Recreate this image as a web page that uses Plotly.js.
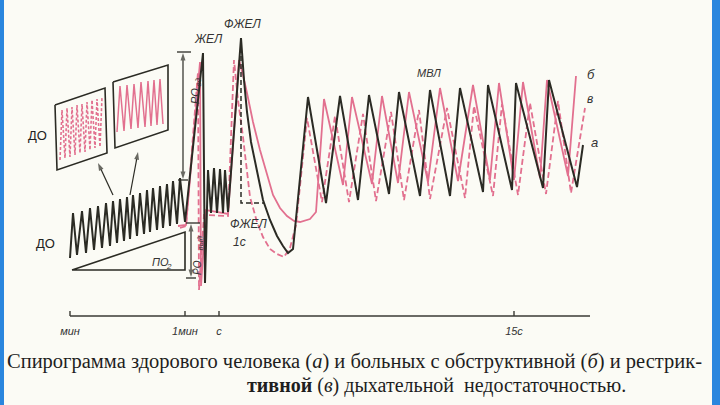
<!DOCTYPE html>
<html>
<head>
<meta charset="utf-8">
<script src="https://cdn.plot.ly/plotly-3.0.1.min.js"></script>
<style>html,body{margin:0;padding:0;background:#fbfbf5;}#chart{width:720px;height:405px;}</style>
</head>
<body>
<div id="chart"></div>
<script>
// ---- Data (time units along x, volume units along y) ----
// Curve "а" — healthy subject (solid black)
const healthyT = [70,73,77,82,86,90,94,98,102,106,110,113,117,120,124,127,130,133,137,140,144,147,150,153,157,160,163,167,170,173,177,180,185,203,205,208,211,214,217,220,223,225,228,241,244,247,251,257,263,270,277,283,288,293,308,326,340,358,369,389,399,420,430,450,460,483,488,512,516,543,549,577,583];
const healthyV = [147,192,150,194,152,197,155,199,157,202,159,204,162,206,164,208,166,210,169,212,171,215,173,217,175,219,177,221,179,224,181,227,183,352,122,235,192,237,192,236,192,235,193,367,325,293,263,233,205,185,169,159,152,156,308,202,309,205,310,211,313,209,315,209,317,213,320,215,322,217,325,218,260];
// Curve "б" — obstructive (solid pink)
const obstrT = [178,186,200,201,206,228,239,243,247,253,260,267,273,280,287,294,300,310,316,324,343,352,372,382,398,409,428,440,458,473,490,499,514,523,540,547,568,576];
const obstrV = [179,180,343,119,195,191,345,330,312,283,255,230,210,197,189,184,183,186,193,306,220,308,221,309,222,313,223,317,224,320,225,322,225,323,227,325,229,329];
// Curve "в" — restrictive (dashed pink)
const restrT = [180,186,198,199,204,228,234,238,243,250,257,263,270,277,284,290,296,303,307,322,335,349,363,376,391,404,419,430,447,465,474,493,502,518,530,546,558,571,585];
const restrV = [177,179,333,115,190,189,345,305,268,208,183,168,156,151,148,157,180,245,287,203,289,203,291,204,293,205,295,206,297,207,299,209,301,210,302,211,304,212,297];
// ФЖЕЛ 1 s marker (dashed black)
const fev1T = [241,241,264];
const fev1V = [365,202,202];
// Inset 1 — tidal breathing, dashed pink
const inset1T = [60,62,65,67,70,72,75,77,80,82,85,87,90,92,95,97,100,102];
const inset1V = [245,295,247,297,248,298,250,300,252,301,253,303,255,305,257,306,258,308];
// Inset 2 — tidal breathing, solid pink
const inset2T = [117,120,124,127,131,134,138,141,145,148,151,154,157,160,163];
const inset2V = [273,319,274,320,276,321,277,323,278,324,279,325,280,326,281];
// Inset frames
const frame1T = [55,105,107,57,55];
const frame1V = [300,317,252,235,300];
const frame2T = [113,168,168,115,113];
const frame2V = [323,340,275,257,323];
// ПО2 triangle
const po2T = [72,185,185,72];
const po2V = [135,173,135,135];
// Arrows (РОвд, РОвыд, pointers to the insets): from first to second point
const arrowT = [[183,183],[183,183],[191,191],[191,191],[113,98],[130,138]];
const arrowV = [[290,352],[290,226],[155,181],[155,128],[210,242],[210,253]];
// Time axis: extent, level, ticks
const axisT = [70,590];
const axisLevel = 89;
const tickPos = [70,185,219,514];
const tickLabels = ['мин','1мин','с','15с'];
const captionLine1 = 'Спирограмма здорового человека (<i>а</i>) и больных с обструктивной (<i>б</i>) и рестрик-';
const captionLine2 = '<b>тивной</b> (<i>в</i>) дыхательной  недостаточностью.';

// ---- Styles ----
const BLACK = '#2b2b24';
const PINK = '#e2708f';
const base = {type:'scatter', mode:'lines', hoverinfo:'skip', showlegend:false};

// time-axis line + upward tick marks, built from the arrays above
const axX = [axisT[0], axisT[1], null], axY = [axisLevel, axisLevel, null];
tickPos.forEach(function(t){ axX.push(t, t, null); axY.push(axisLevel, axisLevel + 5, null); });

const traces = [
  Object.assign({}, base, {x:restrT, y:restrV, line:{color:PINK, width:1.8, dash:'6px,3px'}}),
  Object.assign({}, base, {x:obstrT, y:obstrV, line:{color:PINK, width:1.8}}),
  Object.assign({}, base, {x:inset1T, y:inset1V, line:{color:PINK, width:1.6, dash:'3px,2px'}}),
  Object.assign({}, base, {x:inset2T, y:inset2V, line:{color:PINK, width:1.5}}),
  Object.assign({}, base, {x:frame1T, y:frame1V, line:{color:BLACK, width:1.6}}),
  Object.assign({}, base, {x:frame2T, y:frame2V, line:{color:BLACK, width:1.6}}),
  Object.assign({}, base, {x:po2T, y:po2V, line:{color:BLACK, width:1.6}}),
  Object.assign({}, base, {x:fev1T, y:fev1V, line:{color:BLACK, width:1.5, dash:'5px,3px'}}),
  Object.assign({}, base, {x:healthyT, y:healthyV, line:{color:BLACK, width:2}}),
  Object.assign({}, base, {x:axX, y:axY, line:{color:'#3a3a34', width:1.4}}),
  Object.assign({}, base, {x:axisT, y:[axisLevel, axisLevel], xaxis:'x2', line:{color:'rgba(0,0,0,0)', width:0}})
];
arrowT.forEach(function(t, i){
  traces.push(Object.assign({}, base, {x:t, y:arrowV[i], mode:'lines+markers',
    line:{color:BLACK, width:1.2},
    marker:{symbol:'arrow', angleref:'previous', size:[0,8], color:BLACK, line:{width:0}}}));
});

const lab = {family:'Liberation Sans', size:12, color:'#333', style:'italic'};
function txt(x, y, text, font, extra){
  return Object.assign({x:x, y:y, xref:'x', yref:'y', text:text, showarrow:false, font:Object.assign({}, lab, font||{})}, extra||{});
}

const annotations = [
  txt(208, 366, 'ЖЕЛ'),
  txt(243, 381, 'ФЖЕЛ'),
  txt(429, 332, 'МВЛ', {size:11}),
  txt(591, 331, 'б', {size:13}),
  txt(590, 306, 'в', {size:12}),
  txt(594, 263, 'а', {size:13}),
  txt(249, 181, 'ФЖЕЛ', {size:12}),
  txt(239, 163, '1с', {size:12}),
  txt(37, 270, 'ДО', {style:'normal', size:13, color:'#222'}),
  txt(45, 162, 'ДО', {style:'normal', size:13, color:'#222'}),
  txt(160, 143, 'ПО', {size:11}),
  txt(168.5, 139, '2', {size:8}),
  txt(195, 309, 'РО', {size:11}, {textangle:-90}),
  txt(197.5, 323, 'вд', {size:8}, {textangle:-90}),
  txt(197, 137, 'РО', {size:10}, {textangle:-90}),
  txt(199.5, 162, 'выд', {size:8}, {textangle:-90}),
  {x:5/720, y:44, xref:'paper', yref:'y', xanchor:'left', text:captionLine1, showarrow:false,
   font:{family:'Liberation Serif', size:20.5, color:'#1e1e1e'}},
  {x:245/720, y:20, xref:'paper', yref:'y', xanchor:'left', text:captionLine2, showarrow:false,
   font:{family:'Liberation Serif', size:20, color:'#1e1e1e'}}
];

const shapes = [
  {type:'rect', xref:'paper', yref:'paper', x0:0, x1:4/720, y0:0, y1:1, fillcolor:'#2a86de', line:{width:0}},
  {type:'rect', xref:'paper', yref:'paper', x0:712/720, x1:1, y0:0, y1:1, fillcolor:'#2a86de', line:{width:0}},
  {type:'line', xref:'x', yref:'y', x0:177, x1:191, y0:353, y1:353, line:{color:BLACK, width:1.3}},
  {type:'line', xref:'x', yref:'y', x0:178, x1:188, y0:225, y1:225, line:{color:BLACK, width:1.3}},
  {type:'line', xref:'x', yref:'y', x0:186, x1:200, y0:182, y1:182, line:{color:BLACK, width:1.3}},
  {type:'line', xref:'x', yref:'y', x0:186, x1:196, y0:127, y1:127, line:{color:BLACK, width:1.3}}
];

const layout = {
  width:720, height:405,
  margin:{l:0, r:0, t:0, b:0},
  paper_bgcolor:'#fbfbf5', plot_bgcolor:'rgba(0,0,0,0)',
  xaxis:{range:[0,720], domain:[0,1], visible:false, fixedrange:true},
  xaxis2:{range:[70,590], domain:[70/720, 590/720], anchor:'free', position:89/405,
          showline:false, showgrid:false, zeroline:false, ticks:'', ticklabelstandoff:7,
          tickmode:'array', tickvals:tickPos, ticktext:tickLabels,
          tickfont:{family:'Liberation Sans', size:11, color:'#333', style:'italic'}, fixedrange:true},
  yaxis:{range:[0,405], visible:false, fixedrange:true},
  annotations:annotations,
  shapes:shapes
};

Plotly.newPlot('chart', traces, layout, {displayModeBar:false, staticPlot:true});
</script>
</body>
</html>
